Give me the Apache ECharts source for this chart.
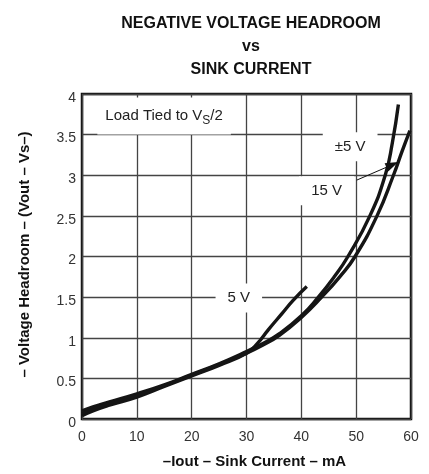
<!DOCTYPE html>
<html><head><meta charset="utf-8">
<script src="https://cdn.jsdelivr.net/npm/echarts@6/dist/echarts.min.js"></script>
<style>html,body{margin:0;padding:0;background:#fff}#c{width:429px;height:474px}</style>
</head><body><div id="c"></div>
<script>
const xTicks = [0, 10, 20, 30, 40, 50, 60];
const yTicks = [0, 0.5, 1, 1.5, 2, 2.5, 3, 3.5, 4];
// Curves: [sink current mA, headroom V]
const curve5V = [[0,0.04],[2,0.1],[5,0.17],[10,0.27],[15,0.4],[20,0.53],[25,0.66],[30,0.81],[32,0.93],[34,1.1],[36.5,1.3],[38.5,1.46],[41,1.63]];
const curvePM5V = [[0,0.1],[2,0.15],[5,0.21],[10,0.31],[15,0.42],[20,0.55],[25,0.68],[30,0.83],[33,0.93],[36,1.05],[40,1.27],[43.1,1.5],[46,1.75],[48.5,2.0],[52.5,2.5],[55.3,3.0],[56.6,3.4],[57.7,3.87]];
const curve15V = [[0,0.07],[2,0.12],[5,0.19],[10,0.29],[15,0.41],[20,0.54],[25,0.67],[30,0.81],[33,0.91],[36,1.03],[40,1.25],[43.7,1.5],[47,1.75],[49.8,2.0],[53.8,2.5],[56.8,3.0],[58.4,3.3],[59.8,3.55]];
// Annotation anchors in data units
const labelPM5V = [48.9, 3.35];
const label15V = [44.6, 2.81];
const label5V = [28.6, 1.49];
const labelLoad = [2.8, 3.73];
const arrow15V = [[50.1, 2.94], [56.6, 3.13]];

const chart = echarts.init(document.getElementById('c'), null, {renderer: 'canvas'});
const font = 'Liberation Sans, Arial, Helvetica, sans-serif';
const lineSeries = (name, data) => ({
  name, type: 'line', data, smooth: 0.5, symbol: 'none',
  lineStyle: {color: '#151515', width: 3.4}, z: 3
});
const boxLabel = (text, pos) => ({
  type: 'scatter', data: [pos], symbolSize: 0, silent: true, z: 2,
  itemStyle: {opacity: 1},
  label: {show: true, position: 'inside', formatter: text, color: '#222', fontSize: 15,
    fontFamily: font, backgroundColor: '#fff', padding: [7, 12]}
});
const option = {
  animation: false,
  backgroundColor: '#fff',
  title: {
    text: 'NEGATIVE VOLTAGE HEADROOM\nvs\nSINK CURRENT',
    left: 246, top: 7, textAlign: 'center',
    textStyle: {fontFamily: font, fontWeight: 'bold', fontSize: 16, lineHeight: 23, color: '#111'}
  },
  grid: {left: 82, right: 18, top: 94, bottom: 53, show: true, borderColor: '#111', borderWidth: 2.5, backgroundColor: 'transparent'},
  xAxis: {
    type: 'value', min: 0, max: 60, interval: 10,
    name: '\u2013Iout \u2013 Sink Current \u2013 mA', nameLocation: 'middle', nameGap: 35,
    nameTextStyle: {fontFamily: font, fontWeight: 'bold', fontSize: 15, color: '#111', padding: [0, 0, 0, 16]},
    axisLine: {show: false}, axisTick: {show: false},
    axisLabel: {fontFamily: font, fontSize: 14, color: '#333', margin: 11, formatter: v => xTicks.includes(v) ? String(v) : ''},
    splitLine: {show: true, lineStyle: {color: '#444', width: 1.3}}
  },
  yAxis: {
    type: 'value', min: 0, max: 4, interval: 0.5,
    name: '\u2013 Voltage Headroom \u2013 (Vout \u2013 Vs\u2013)', nameLocation: 'middle', nameGap: 50,
    nameTextStyle: {fontFamily: font, fontWeight: 'bold', fontSize: 15, color: '#111', padding: [0, 0, 0, 4]},
    axisLine: {show: false}, axisTick: {show: false},
    axisLabel: {fontFamily: font, fontSize: 14, color: '#333', margin: 6, verticalAlign: 'top', lineHeight: 8, formatter: v => yTicks.includes(v) ? String(v) : ''},
    splitLine: {show: true, lineStyle: {color: '#444', width: 1.3}}
  },
  series: [
    boxLabel('\u00b15 V', labelPM5V),
    boxLabel('15 V', label15V),
    boxLabel('5 V', label5V),
    {
      type: 'scatter', data: [labelLoad], symbolSize: 0, silent: true, z: 2,
      itemStyle: {opacity: 1},
      label: {show: true, position: 'right', distance: 0, formatter: '{a|Load Tied to V}{s|S}{a|/2}',
        backgroundColor: '#fff', padding: [8, 8],
        rich: {a: {fontFamily: font, fontSize: 15, color: '#222'}, s: {fontFamily: font, fontSize: 12, color: '#222', padding: [9, 0, 0, 0]}}}
    },
    lineSeries('5 V', curve5V),
    lineSeries('\u00b15 V', curvePM5V),
    Object.assign(lineSeries('15 V', curve15V), {
      markLine: {
        silent: true, symbol: ['none', 'triangle'], symbolSize: [9, 13],
        lineStyle: {color: '#111', width: 1, type: 'solid'}, label: {show: false},
        data: [[{coord: arrow15V[0]}, {coord: arrow15V[1]}]]
      }
    })
  ]
};
chart.setOption(option);
</script></body></html>
